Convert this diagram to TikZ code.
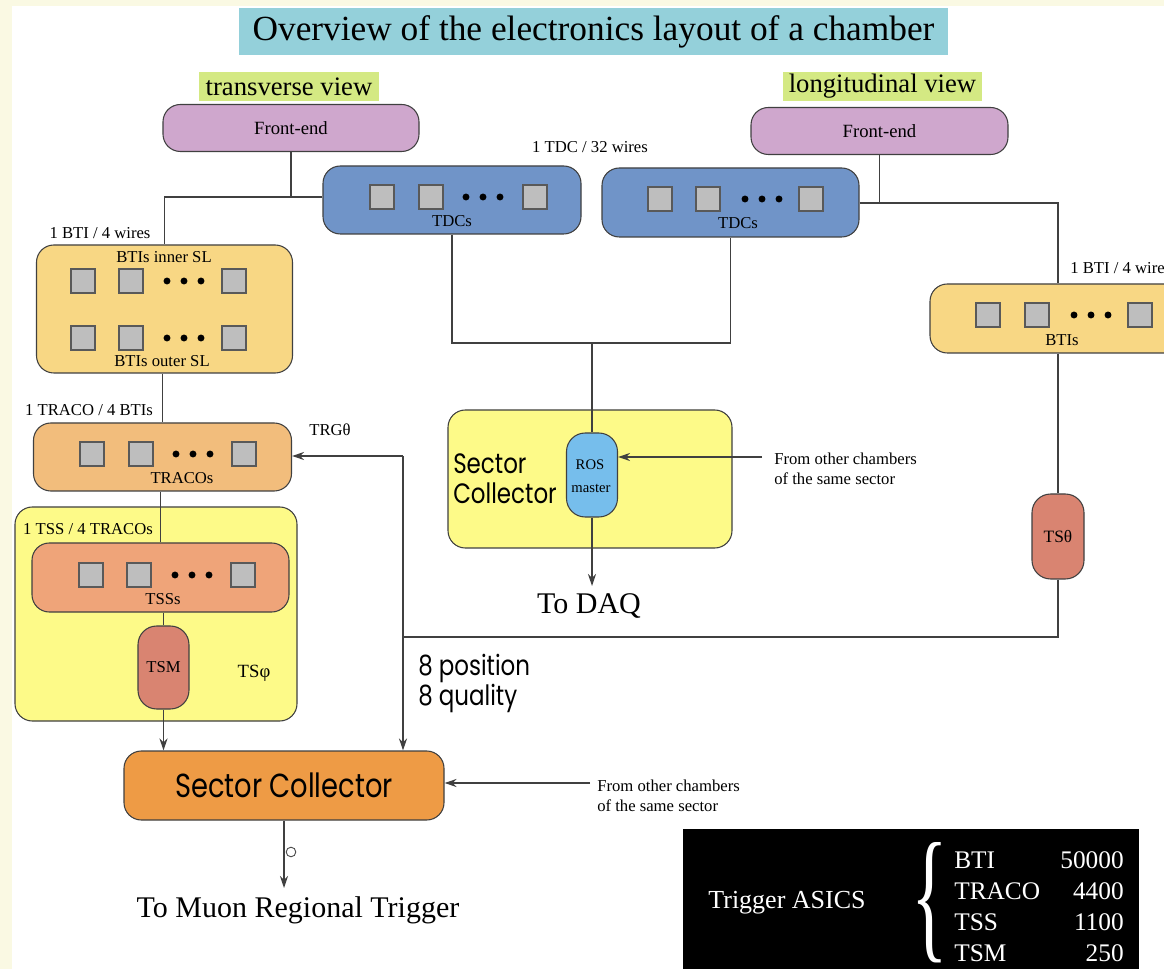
\documentclass[tikz,border=0pt]{standalone}
\usepackage{fontspec}
\usepackage{graphicx}
\setmainfont{Liberation Serif}
\newfontfamily\gothic[FakeStretch=0.82]{Poppins}
\usetikzlibrary{arrows.meta}
\definecolor{bgcream}{HTML}{FAF9E3}
\definecolor{titlecyan}{HTML}{94D0DA}
\definecolor{viewgreen}{HTML}{D4E983}
\definecolor{fepurple}{HTML}{CFA7CD}
\definecolor{tdcblue}{HTML}{7094C8}
\definecolor{btiyellow}{HTML}{F8D784}
\definecolor{tracoorange}{HTML}{F2BD7C}
\definecolor{tsyellow}{HTML}{FDFA88}
\definecolor{tsssalmon}{HTML}{EFA479}
\definecolor{tsmred}{HTML}{D98471}
\definecolor{scorange}{HTML}{EE9B45}
\definecolor{rosblue}{HTML}{76BEEC}
\definecolor{chipgray}{HTML}{BEBEBE}
\newcommand\chiprow[6]{%
  \node[chip] (#1a) at (#3,#2) {};
  \node[chip] (#1b) at (#4,#2) {};
  \node[chip] (#1c) at (#6,#2) {};
  \fill (#5-17,#2) circle (2.6pt) (#5,#2) circle (2.6pt) (#5+17,#2) circle (2.6pt);
}
\tikzset{
  sz/.style 2 args={minimum width=#1*0.75pt, minimum height=#2*0.75pt},
  blk/.style={draw=black!75, line width=0.8pt, rounded corners=13pt, inner sep=0pt},
  pill/.style={draw=black!75, line width=0.8pt, rounded corners=14pt, inner sep=0pt},
  chip/.style={fill=chipgray, draw=black!65, line width=0.8pt, minimum size=18pt, inner sep=0pt},
  lbl/.style={font=\fontsize{12.5}{15}\selectfont, inner sep=0pt},
  mid/.style={font=\fontsize{14}{16}\selectfont, inner sep=0pt},
  big/.style={font=\fontsize{22.5}{26}\selectfont, inner sep=0pt},
  goth/.style={font=\gothic\fontsize{21}{22.5}\selectfont, inner sep=0pt},
  conn/.style={draw=black!75, line width=0.9pt},
  arr/.style={-{Stealth[length=9pt,width=6pt]}},
}
\begin{document}
\begin{tikzpicture}[x=0.75pt,y=-0.75pt]
\useasboundingbox (0,0) rectangle (1164,969);
\clip (0,0) rectangle (1164,969);
\fill[bgcream] (0,0) rectangle (1164,969);
\fill[white] (12,6) rectangle (1164,969);

% title and view labels
\node[fill=titlecyan, sz={709}{47}, inner sep=0pt, font=\fontsize{26.5}{29}\selectfont] (title) at (593.5,31.5) {Overview of the electronics layout of a chamber};
\node[fill=viewgreen, sz={180}{29}, inner sep=0pt, font=\fontsize{20}{22}\selectfont] (tview) at (289,86.5) {transverse view};
\node[fill=viewgreen, sz={199}{29}, inner sep=0pt, font=\fontsize{20}{22}\selectfont] (lview) at (882.5,86.5) {longitudinal view};

% containers
\node[blk, fill=tsyellow, sz={282}{214}] (TSphi) at (156,614) {};
\node[blk, fill=tsyellow, sz={284}{138}] (DAQSC) at (590,479) {};

% front-ends
\node[blk, fill=fepurple, sz={256}{47}, mid] (FE1) at (291,128) {Front-end};
\node[blk, fill=fepurple, sz={257}{47}, mid] (FE2) at (879.5,131) {Front-end};

% TDCs
\node[blk, fill=tdcblue, sz={258}{68}] (TDC1) at (452,200) {};
\chiprow{ta}{197}{382}{431}{483}{535}
\node[lbl] (TDC1t) at (452,221) {TDCs};
\node[blk, fill=tdcblue, sz={257}{69}] (TDC2) at (730.5,202.5) {};
\chiprow{tb}{199}{660}{708}{762}{811}
\node[lbl] (TDC2t) at (738,223) {TDCs};
\node[lbl] (tdcnote) at (590,147) {1 TDC / 32 wires};

% BTIs transverse
\node[blk, fill=btiyellow, sz={256}{128}] (BTI1) at (164.5,309) {};
\chiprow{ba}{281}{83}{131}{184}{234}
\chiprow{bb}{338}{83}{131}{184}{234}
\node[lbl] (BTI1in) at (164,257) {BTIs inner SL};
\node[lbl] (BTI1out) at (162,361) {BTIs outer SL};
\node[lbl] (btinote1) at (100,233) {1 BTI / 4 wires};

% TRACOs
\node[blk, fill=tracoorange, sz={258}{68}] (TRACO) at (162.5,457) {};
\chiprow{tr}{454}{92}{141}{193}{244}
\node[lbl] (TRACOt) at (182,478) {TRACOs};
\node[lbl] (traconote) at (89,410) {1 TRACO / 4 BTIs};
\node[lbl] (trg) at (330,430) {TRGθ};

% TSS / TSM
\node[blk, fill=tsssalmon, sz={257}{69}] (TSS) at (160.5,577.5) {};
\chiprow{ts}{575}{91}{139}{192}{243}
\node[lbl] (TSSt) at (163,599) {TSSs};
\node[lbl] (tssnote) at (88,529) {1 TSS / 4 TRACOs};
\node[pill, fill=tsmred, sz={51}{83}, lbl] (TSM) at (163.5,667.5) {TSM};
\node[font=\fontsize{14}{16}\selectfont, inner sep=0pt] (tsphit) at (254,673) {TSφ};

% sector collector (trigger)
\node[blk, fill=scorange, sz={320}{69}, font=\gothic\fontsize{25}{28}\selectfont] (SC) at (284,785.5) {Sector Collector};

% DAQ sector collector and ROS
\node[goth, align=left, anchor=west] (DAQSCt) at (453,479) {Sector\\Collector};
\node[pill, fill=rosblue, sz={51}{84}] (ROS) at (592,475) {};
\node[font=\fontsize{11}{13}\selectfont, inner sep=0pt] (ROSt) at (590,465) {ROS};
\node[font=\fontsize{11}{13}\selectfont, inner sep=0pt] (ROSm) at (591,488) {master};
\node[lbl, align=left, anchor=west] (from1) at (774,469) {From other chambers\\of the same sector};
\coordinate (f1) at (762,457);
\node[big] (daq) at (589,606) {To DAQ};
\coordinate (d1) at (592,586);

% longitudinal BTIs and TS theta
\node[blk, fill=btiyellow, sz={256}{69}] (BTI2) at (1058,318.5) {};
\chiprow{bc}{315}{988}{1037}{1091}{1140}
\node[lbl] (BTI2t) at (1062,340) {BTIs};
\node[lbl, anchor=west] (btinote2) at (1070,268) {1 BTI / 4 wires};
\node[pill, fill=tsmred, sz={52}{85}, font=\fontsize{13}{15}\selectfont] (TSth) at (1058,536.5) {TSθ};

% position / quality
\node[goth, align=left, anchor=west] (pq) at (418,683) {8 position\\8 quality};

% from other chambers (trigger)
\node[lbl, align=left, anchor=west] (from2) at (597,796) {From other chambers\\of the same sector};
\coordinate (f2) at (590,783);

% to muon trigger
\node[big] (muon) at (298,910) {To Muon Regional Trigger};

% ASIC table
\node[fill=black, sz={456}{150}, inner sep=0pt] (ASIC) at (911,904) {};
\node[text=white, font=\fontsize{19.5}{22}\selectfont, inner sep=0pt] (asict) at (787,903) {Trigger ASICS};
\node[text=white, inner sep=0pt, font=\fontsize{13}{13}\selectfont] (brace) at (930,903) {\scalebox{4.4}[8.4]{\{}};
\foreach \nm/\vl/\yy [count=\k] in {BTI/50000/860, TRACO/4400/891, TSS/1100/922, TSM/250/953}{
  \node[text=white, font=\fontsize{19}{22}\selectfont, inner sep=0pt, anchor=west] (an\k) at (954,\yy) {\nm};
  \node[text=white, font=\fontsize{19}{22}\selectfont, inner sep=0pt, anchor=east] (av\k) at (1124,\yy) {\vl};
}

% ---- connectors ----
\coordinate (j1) at (291,197);
\draw[conn] (FE1.south) -- (j1);
\draw[conn] (TDC1.west |- j1) -| (BTI1.north);
\coordinate (j2) at (879.5,203);
\draw[conn] (FE2.south) -- (j2);
\draw[conn] (TDC2.east |- j2) -| (BTI2.north);
\coordinate (j3) at (592,343);
\draw[conn] (TDC1.south) |- (j3) -| (TDC2.south);
\draw[conn] (j3) -- (ROS.north);
\draw[conn, arr] (f1) -- (ROS.east |- f1);
\draw[conn, arr] (ROS.south) -- (d1);
\draw[conn] (BTI1.south -| TRACO.north) -- (TRACO.north);
\draw[conn] (TRACO.south -| TSS.north) -- (TSS.north);
\draw[conn] (TSS.south -| TSM.north) -- (TSM.north);
\draw[conn, arr] (TSM.south) -- (TSM.south |- SC.north);
\draw[conn] (BTI2.south) -- (TSth.north);
\coordinate (j4) at (403,637);
\coordinate (c1) at (403,456);
\draw[conn] (TSth.south) |- (j4);
\draw[conn, arr] (c1) -- (TRACO.east |- c1);
\draw[conn, arr] (c1) -- (c1 |- SC.north);
\draw[conn, arr] (f2) -- (SC.east |- f2);
\coordinate (m1) at (284,888);
\draw[conn, arr] (SC.south) -- (m1);
\draw[black!70, line width=0.7pt] (291,852) circle (3.6pt);
\end{tikzpicture}
\end{document}
